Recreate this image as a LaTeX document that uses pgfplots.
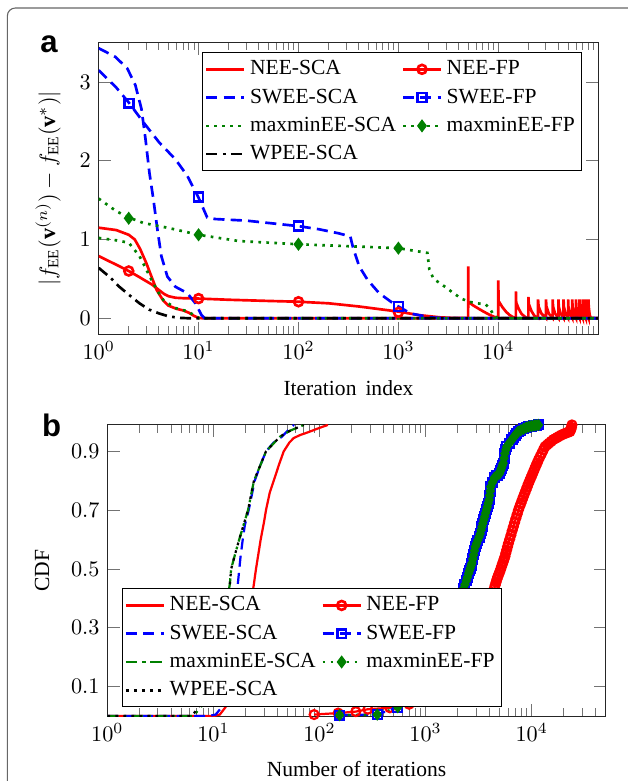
\documentclass[border=0pt]{standalone}
\usepackage{pgfplots}
\pgfplotsset{compat=1.18}
\usepackage{fontspec}
\setmainfont{Liberation Serif}
\newfontfamily\panelfont{Liberation Sans}
\definecolor{dgreen}{RGB}{0,128,0}
\pgfplotsset{
  myaxis/.style={
    scale only axis,
    axis line style={black!85},
    major tick length=5.5pt, minor tick length=3.5pt,
    tick style={black!55, line width=0.45pt},
    every tick label/.append style={font=\fontsize{10}{12}\selectfont},
    label style={font=\fontsize{9.7}{11.6}\selectfont},
    legend cell align=left,
  },
  mylegend/.style={draw=black, fill=white,
    font=\fontsize{9.7}{11.6}\selectfont, inner xsep=1pt, inner ysep=1.5pt, row sep=0.8pt,
    /tikz/every even column/.append style={column sep=0.5pt}},
  dashA/.style={dash pattern=on 5pt off 2.8pt},
  dotA/.style={dash pattern=on 1.2pt off 2.4pt},
  dashdotA/.style={dash pattern=on 5pt off 2.4pt on 1.2pt off 2.4pt},
}
\begin{document}
\begin{tikzpicture}
\useasboundingbox (0,0) rectangle (282.6pt,-351.45pt);
\draw[black!60, line width=0.5pt, rounded corners=3.6pt] (3.3pt,-3.6pt) rectangle (300pt,-380pt);
\node[anchor=base west, inner sep=0pt] at (18pt,-23.4pt) {\panelfont\bfseries\fontsize{14}{14}\selectfont a};
\node[anchor=base west, inner sep=0pt] at (18.8pt,-196.2pt) {\panelfont\bfseries\fontsize{14}{14}\selectfont b};

% ---------------- panel a ----------------
\begin{axis}[xmode=log, myaxis,
  at={(44.4pt,-150.3pt)}, anchor=south west,
  width=224.8pt, height=131.1pt,
  xmin=1, xmax=1e5, ymin=-0.2, ymax=3.5,
  xtick={1,10,100,1000,10000},
  minor xtick={2,3,4,5,6,7,8,9,20,30,40,50,60,70,80,90,200,300,400,500,600,700,800,900,2000,3000,4000,5000,6000,7000,8000,9000,20000,30000,40000,50000,60000,70000,80000,90000},
  ytick={0,1,2,3},
  xlabel={Iteration\, index},
  ylabel={$|f_{\mathrm{EE}}(\mathbf{v}^{(n)}) - f_{\mathrm{EE}}(\mathbf{v}^{*})|$},
  xlabel style={at={(axis description cs:0.5,-0.2094)}, anchor=base},
  ylabel style={at={(axis description cs:-0.1014,0.5)}, anchor=center, font=\fontsize{10}{12}\selectfont},
  legend columns=2,
  legend style={mylegend, at={(0.9675,0.967)}, anchor=north east},
]
\addlegendimage{red, line width=1.2pt}
\addlegendentry{NEE-SCA}
\addlegendimage{red, line width=1.2pt, mark=o, mark options={solid}}
\addlegendentry{NEE-FP}
\addlegendimage{blue, line width=1.2pt, dashA}
\addlegendentry{SWEE-SCA}
\addlegendimage{blue, line width=1.2pt, dashA, mark=square, mark options={solid}}
\addlegendentry{SWEE-FP}
\addlegendimage{dgreen, line width=1.2pt, dotA}
\addlegendentry{maxminEE-SCA}
\addlegendimage{dgreen, line width=1.2pt, dotA, mark=diamond*, mark options={solid}}
\addlegendentry{maxminEE-FP}
\addlegendimage{black, line width=1.2pt, dashdotA}
\addlegendentry{WPEE-SCA}

% NEE-SCA
\addplot[red, line width=1.2pt, forget plot] coordinates {
(1,1.15)(1.5,1.12)(2,1.06)(2.3,1.0)(2.6,0.88)(3,0.7)(3.4,0.52)(3.8,0.36)(4.4,0.23)(5,0.16)(6,0.12)(7,0.1)(8,0.07)(9,0.03)(10,0.005)(11,0)(100000,0)};
% NEE-FP
\addplot[red, line width=1.2pt, forget plot] coordinates {
(1,0.79)(1.5,0.68)(2,0.6)(2.5,0.53)(3,0.47)(3.4,0.43)(4,0.36)(4.5,0.31)(5,0.28)(5.9,0.26)(7,0.255)(10,0.25)(20,0.235)(50,0.22)(100,0.21)(200,0.19)(400,0.15)(700,0.11)(1000,0.085)(1600,0.04)(2600,0.012)(3500,0.004)(4990,0.002)
(5000,0.66)(5010,0.21)(5500,0.17)(6000,0.14)(7000,0.09)(8000,0.05)(9000,0.02)(9990,0.003)
(10000,0.48)(10050,0.22)(11000,0.14)(12000,0.08)(13000,0.04)(14000,0.015)(14990,0.003)
(15000,0.34)(15100,0.2)(16000,0.12)(17000,0.06)(18000,0.03)(19000,0.01)(19990,0.002)
(20000,0.27)(20200,0.18)(21500,0.09)(23000,0.03)(24990,0.002)
(25000,0.24)(25300,0.15)(27000,0.06)(29990,0.002)
(30000,0.24)(30300,0.15)(32000,0.06)(34990,0.002)
(35000,0.24)(35300,0.15)(37000,0.06)(39990,0.002)
(40000,0.24)(40300,0.15)(42000,0.06)(44990,0.002)
(45000,0.24)(45300,0.15)(47000,0.06)(49990,0.002)
(50000,0.24)(50300,0.15)(52000,0.06)(54990,0.002)
(55000,0.24)(55300,0.15)(57000,0.06)(59990,0.002)
(60000,0.24)(60300,0.15)(62000,0.06)(64990,0.002)
(65000,0.24)(65300,0.15)(67000,0.06)(69990,0.002)
(70000,0.24)(70300,0.15)(72000,0.06)(74990,0.002)
(75000,0.24)(75300,0.15)(77000,0.06)(79990,0.002)
(80000,0.24)(80300,0.15)(82000,0.05)(84000,0.005)(100000,0)};
\addplot[red, line width=1.2pt, only marks, mark=o, forget plot] coordinates {(2,0.6)(10,0.25)(100,0.21)(1000,0.075)};
% SWEE-SCA
\addplot[blue, line width=1.2pt, dashA, forget plot] coordinates {
(1,3.43)(1.47,3.32)(1.94,3.17)(2.33,2.96)(2.68,2.66)(2.94,2.28)(3.22,1.85)(3.53,1.51)(3.87,1.13)(4.24,0.79)(4.87,0.53)(5.86,0.40)(7.7,0.32)(9.3,0.19)(10.7,0.04)(11.5,0)(100000,0)};
% SWEE-FP
\addplot[blue, line width=1.2pt, dashA, forget plot] coordinates {
(1,3.15)(1.5,2.93)(2,2.74)(2.8,2.49)(4.05,2.23)(5.86,2.02)(7.7,1.81)(10,1.53)(12.2,1.28)(14.7,1.26)(30,1.24)(100,1.17)(161,1.13)(250,1.08)(330,1.04)(353,0.89)(405,0.66)(490,0.49)(640,0.32)(930,0.17)(1000,0.15)(1330,0.06)(2130,0.01)(3000,0)(100000,0)};
\addplot[blue, line width=1.2pt, only marks, mark=square, forget plot] coordinates {(2,2.73)(10,1.54)(100,1.17)(1000,0.15)};
% maxminEE-SCA
\addplot[dgreen, line width=1.2pt, dotA, forget plot] coordinates {
(1,1.02)(1.5,0.99)(2,0.96)(2.56,0.79)(3,0.62)(3.37,0.49)(4,0.32)(4.45,0.23)(5.86,0.13)(7.7,0.09)(9,0.04)(10.2,0)(100000,0)};
% maxminEE-FP
\addplot[dgreen, line width=1.2pt, dotA, forget plot] coordinates {
(1,1.52)(1.5,1.36)(2,1.28)(2.8,1.21)(4.87,1.15)(10,1.06)(25.5,0.98)(100,0.94)(405,0.91)(1000,0.89)(1950,0.83)(2040,0.62)(2250,0.5)(2640,0.44)(3080,0.38)(3550,0.32)(4260,0.25)(5080,0.21)(6170,0.19)(7500,0.175)(8270,0.12)(9070,0.03)(10000,0)(100000,0)};
\addplot[dgreen, line width=1.2pt, only marks, mark=diamond*, forget plot] coordinates {(2,1.27)(10,1.06)(100,0.94)(1000,0.89)};
% WPEE-SCA
\addplot[black, line width=1.2pt, dashdotA, forget plot] coordinates {
(1,0.64)(1.3,0.52)(1.61,0.40)(2,0.3)(2.56,0.19)(3.2,0.11)(4.05,0.06)(5,0.025)(6.4,0.005)(8,0)(100000,0)};
\end{axis}

% ---------------- panel b ----------------
\begin{axis}[xmode=log, myaxis,
  at={(48.3pt,-322.2pt)}, anchor=south west,
  width=224.3pt, height=131pt,
  xmin=1, xmax=5e4, ymin=0, ymax=0.99,
  xtick={1,10,100,1000,10000},
  minor xtick={2,3,4,5,6,7,8,9,20,30,40,50,60,70,80,90,200,300,400,500,600,700,800,900,2000,3000,4000,5000,6000,7000,8000,9000,20000,30000,40000},
  ytick={0.1,0.3,0.5,0.7,0.9},
  yticklabel style={/pgf/number format/fixed, /pgf/number format/precision=1, /pgf/number format/fixed zerofill},
  xlabel={Number of iterations},
  ylabel={CDF},
  xlabel style={at={(axis description cs:0.5,-0.2095)}, anchor=base},
  ylabel style={at={(axis description cs:-0.131,0.5)}, anchor=center},
  legend columns=2,
  legend style={mylegend, at={(0.0294,0.030)}, anchor=south west},
]
\addlegendimage{red, line width=1.2pt}
\addlegendentry{NEE-SCA}
\addlegendimage{red, line width=1.2pt, mark=o, mark options={solid}}
\addlegendentry{NEE-FP}
\addlegendimage{blue, line width=1.2pt, dashA}
\addlegendentry{SWEE-SCA}
\addlegendimage{blue, line width=1.2pt, dashA, mark=square, mark options={solid}}
\addlegendentry{SWEE-FP}
\addlegendimage{dgreen, line width=1.2pt, dashdotA}
\addlegendentry{maxminEE-SCA}
\addlegendimage{dgreen, line width=1.2pt, dotA, mark=diamond*, mark options={solid}}
\addlegendentry{maxminEE-FP}
\addlegendimage{black, line width=1.2pt, dotA}
\addlegendentry{WPEE-SCA}

% NEE-SCA
\addplot[red, line width=1pt, forget plot] coordinates {
(1,0)(10,0)(11.5,0.005)(13,0.03)(15,0.08)(17,0.15)(19,0.24)(21,0.32)(23,0.4)(24.1,0.45)(25.2,0.5)(27.9,0.6)(30,0.66)(31.3,0.7)(34,0.76)(37,0.8)(42,0.86)(46,0.9)(52,0.93)(57,0.945)(65,0.955)(78,0.965)(100,0.98)(120,0.99)};
% NEE-FP
\addplot[red, line width=1pt, mark=o, mark options={solid}, forget plot] coordinates {
(89,0.005)(150,0.01)(220,0.015)(286,0.023)(460,0.028)(700,0.04)(1000,0.06)(1500,0.1)(2000,0.15)(2500,0.2)(3000,0.25)(3500,0.31)(4000,0.37)(4300,0.41)
(4440,0.434)(4530,0.445)(4620,0.455)(4710,0.465)(4800,0.474)(4900,0.482)(5000,0.49)(5100,0.499)(5200,0.508)(5300,0.517)(5400,0.525)(5500,0.534)(5600,0.542)(5710,0.554)(5820,0.565)(5930,0.576)(6040,0.587)(6210,0.601)(6380,0.615)(6550,0.63)(6730,0.644)(6910,0.658)(7100,0.672)(7300,0.686)(7500,0.70)(7710,0.712)(7920,0.723)(8140,0.735)(8360,0.746)(8590,0.757)(8830,0.768)(9070,0.779)(9310,0.79)(9570,0.8)(9830,0.81)(10100,0.82)(10370,0.83)(10650,0.84)(10950,0.85)(11250,0.86)(11560,0.87)(11990,0.882)(12430,0.893)(12890,0.905)(13360,0.916)(13970,0.922)(14600,0.928)(15300,0.934)(16000,0.94)(16750,0.944)(17500,0.948)(18300,0.952)(19130,0.956)(20050,0.959)(21000,0.962)(21950,0.965)(22930,0.967)(23200,0.972)(23500,0.976)(23700,0.982)(24000,0.99)};
% SWEE-FP
\addplot[blue, line width=1pt, dashA, mark=square, mark options={solid}, forget plot] coordinates {
(155,0.003)(350,0.005)(547,0.03)(700,0.05)(1000,0.09)(1300,0.15)(1600,0.22)(1900,0.3)(2100,0.37)(2200,0.4)
(2285,0.434)(2350,0.447)(2420,0.46)(2480,0.472)(2546,0.485)(2590,0.494)(2640,0.503)(2690,0.512)(2735,0.52)(2790,0.534)(2840,0.548)(2890,0.562)(2944,0.576)(3025,0.587)(3110,0.598)(3195,0.609)(3281,0.62)(3340,0.632)(3404,0.644)(3470,0.655)(3540,0.667)(3610,0.678)(3677,0.69)(3750,0.701)(3820,0.712)(3895,0.724)(3970,0.735)(4020,0.75)(4070,0.765)(4120,0.78)(4280,0.795)(4445,0.81)(4710,0.818)(4990,0.825)(5090,0.834)(5190,0.843)(5290,0.852)(5390,0.86)(5500,0.877)(5600,0.893)(5710,0.905)(5820,0.916)(6160,0.928)(6530,0.94)(6760,0.948)(7000,0.955)(7230,0.961)(7470,0.967)(7920,0.972)(8400,0.977)(8880,0.981)(9380,0.984)(9930,0.986)(10500,0.988)(11000,0.989)(11600,0.99)};
% maxminEE-FP
\addplot[dgreen, line width=1pt, dotA, mark=diamond*, mark options={solid}, forget plot] coordinates {
(155,0.003)(350,0.005)(547,0.03)(700,0.05)(1000,0.09)(1300,0.15)(1600,0.22)(1900,0.3)(2100,0.37)(2200,0.4)
(2285,0.434)(2350,0.447)(2420,0.46)(2480,0.472)(2546,0.485)(2590,0.494)(2640,0.503)(2690,0.512)(2735,0.52)(2790,0.534)(2840,0.548)(2890,0.562)(2944,0.576)(3025,0.587)(3110,0.598)(3195,0.609)(3281,0.62)(3340,0.632)(3404,0.644)(3470,0.655)(3540,0.667)(3610,0.678)(3677,0.69)(3750,0.701)(3820,0.712)(3895,0.724)(3970,0.735)(4020,0.75)(4070,0.765)(4120,0.78)(4280,0.795)(4445,0.81)(4710,0.818)(4990,0.825)(5090,0.834)(5190,0.843)(5290,0.852)(5390,0.86)(5500,0.877)(5600,0.893)(5710,0.905)(5820,0.916)(6160,0.928)(6530,0.94)(6760,0.948)(7000,0.955)(7230,0.961)(7470,0.967)(7920,0.972)(8400,0.977)(8880,0.981)(9380,0.984)(9930,0.986)(10500,0.988)(11000,0.989)(11600,0.99)};
% SWEE-SCA
\addplot[blue, line width=1pt, dashA, forget plot] coordinates {
(1,0)(9,0)(10.5,0.005)(12,0.03)(13,0.07)(14,0.13)(15,0.2)(16,0.3)(17,0.45)(18,0.54)(18.9,0.6)(19.8,0.65)(21.5,0.7)(24.5,0.8)(27.5,0.85)(31.3,0.9)(37,0.93)(44.3,0.95)(50,0.97)(57.5,0.99)};
% maxminEE-SCA
\addplot[dgreen, line width=1pt, dashdotA, forget plot] coordinates {
(1,0)(6.5,0)(7.2,0.02)(8,0.04)(9,0.07)(10,0.12)(11,0.19)(12,0.27)(13,0.36)(14.3,0.45)(14.7,0.5)(16,0.55)(17.5,0.6)(21.2,0.7)(24.1,0.8)(27.5,0.85)(31.3,0.9)(42.4,0.95)(52.6,0.97)(71,0.99)};
% WPEE-SCA
\addplot[black, line width=1pt, dotA, forget plot] coordinates {
(1,0)(6.3,0)(7.2,0.03)(8,0.05)(9,0.08)(10,0.13)(11,0.2)(12,0.28)(13,0.37)(14.3,0.45)(14.7,0.5)(16,0.55)(17.5,0.6)(21.2,0.7)(24.1,0.8)(27.5,0.85)(31.3,0.9)(42.4,0.95)(52.6,0.97)(71,0.99)};
\end{axis}
\end{tikzpicture}
\end{document}
